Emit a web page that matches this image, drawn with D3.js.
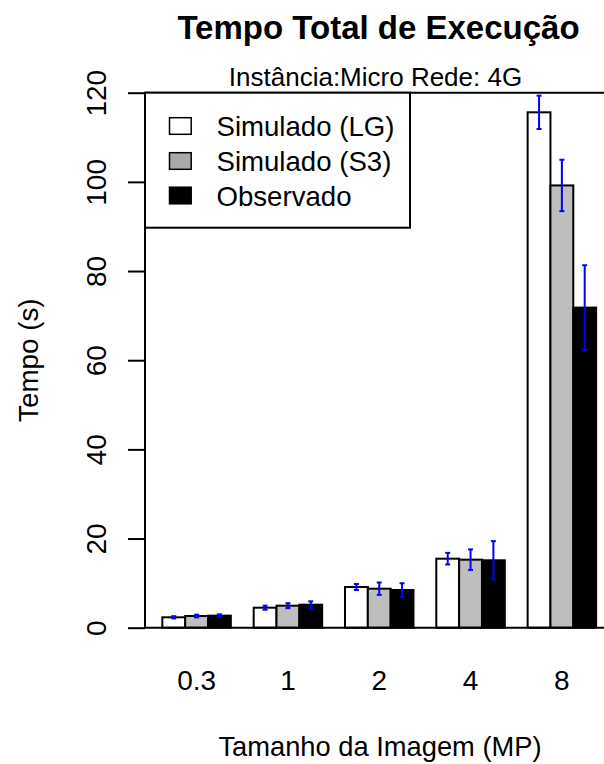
<!DOCTYPE html>
<html>
<head>
<meta charset="utf-8">
<script src="https://cdn.jsdelivr.net/npm/d3@7"></script>
<style>
  html, body { margin: 0; padding: 0; background: #ffffff; }
  svg { display: block; font-family: "Liberation Sans", Arial, Helvetica, sans-serif; }
</style>
</head>
<body>
<svg id="chart" width="604" height="764"></svg>
<script>
// Image sizes (MP) on the x axis
const categories = ["0.3", "1", "2", "4", "8"];
const seriesNames = ["Simulado (LG)", "Simulado (S3)", "Observado"];

// Mean total execution time (s)
const simLG = [2.33, 4.49, 9.13, 15.48, 115.6];
const simS3 = [2.62, 4.94, 8.75, 15.26, 99.2];
const observed = [2.70, 5.16, 8.46, 15.12, 71.8];

// Standard deviation (s), drawn as mean ± sd
const sdLG = [0.25, 0.45, 0.67, 1.3, 3.74];
const sdS3 = [0.3, 0.55, 1.38, 2.3, 5.76];
const sdObs = [0.3, 0.75, 1.5, 4.3, 9.5];

const yTicks = [0, 20, 40, 60, 80, 100, 120];

const barFill = ["#ffffff", "#bebebe", "#000000"];
const legendFill = ["#ffffff", "#a9a9a9", "#000000"];

const means = [simLG, simS3, observed];
const sds = [sdLG, sdS3, sdObs];

const svg = d3.select("#chart");

// Plot region
const plotLeft = 145, plotTop = 92.7, plotBottom = 627.7;
const unit = 22.83;                     // width of one bar
const origin = plotLeft - 0.24 * unit;  // x position of bar-unit 0

const y = d3.scaleLinear().domain([0, 120]).range([plotBottom, plotTop]);

// Each group takes four bar-widths: one gap followed by three bars
const x0 = d3.scaleBand()
  .domain(categories)
  .range([origin, origin + 20 * unit])
  .paddingInner(0).paddingOuter(0);
const x1 = d3.scaleBand()
  .domain(seriesNames)
  .range([x0.bandwidth() / 4, x0.bandwidth()])
  .paddingInner(0).paddingOuter(0);

// Bars
const bars = [];
categories.forEach((c, gi) => {
  seriesNames.forEach((s, si) => {
    bars.push({ cat: c, series: s, si, v: means[si][gi], sd: sds[si][gi] });
  });
});

svg.append("g").selectAll("rect")
  .data(bars)
  .join("rect")
  .attr("x", d => x0(d.cat) + x1(d.series))
  .attr("y", d => y(d.v))
  .attr("width", x1.bandwidth())
  .attr("height", d => y(0) - y(d.v))
  .attr("fill", d => barFill[d.si])
  .attr("stroke", "#000")
  .attr("stroke-width", 2);

// Error bars
const cap = 2.5;
const eg = svg.append("g").attr("stroke", "#0000ff").attr("stroke-width", 2).attr("fill", "none");
bars.forEach(d => {
  const cx = x0(d.cat) + x1(d.series) + x1.bandwidth() / 2;
  const y1 = y(d.v - d.sd), y2 = y(d.v + d.sd);
  eg.append("line").attr("x1", cx).attr("x2", cx).attr("y1", y1).attr("y2", y2);
  eg.append("line").attr("x1", cx - cap).attr("x2", cx + cap).attr("y1", y1).attr("y2", y1);
  eg.append("line").attr("x1", cx - cap).attr("x2", cx + cap).attr("y1", y2).attr("y2", y2);
});

// Frame lines at top and bottom of the plot region
svg.append("g").attr("stroke", "#000").attr("stroke-width", 2)
  .selectAll("line").data([0, 120]).join("line")
  .attr("x1", plotLeft).attr("x2", 604)
  .attr("y1", d => y(d)).attr("y2", d => y(d));

// Y axis
const yAxis = svg.append("g")
  .attr("transform", `translate(${plotLeft},0)`)
  .call(d3.axisLeft(y).tickValues(yTicks).tickSize(17).tickSizeOuter(0).tickFormat(d3.format("d")));
yAxis.select(".domain").attr("stroke-width", 2).attr("d", `M0,${y(0)}V${y(120)}`);
yAxis.selectAll(".tick line").attr("stroke-width", 2);
yAxis.selectAll(".tick text")
  .attr("x", null).attr("dy", null)
  .attr("transform", "translate(-39,0) rotate(-90)")
  .attr("text-anchor", "middle")
  .attr("font-size", 28)
  .attr("font-family", "Liberation Sans, Arial, sans-serif")
  .attr("fill", "#000");

// X category labels
svg.append("g").selectAll("text")
  .data(categories).join("text")
  .attr("x", d => x0(d) + x1.bandwidth() * 2.5)
  .attr("y", 689.5)
  .attr("text-anchor", "middle")
  .attr("font-size", 28)
  .text(d => d);

// Titles
svg.append("text")
  .attr("x", 378.5).attr("y", 39)
  .attr("text-anchor", "middle")
  .attr("font-size", 33).attr("font-weight", "bold")
  .text("Tempo Total de Execução");

svg.append("text")
  .attr("x", 375.5).attr("y", 85.5)
  .attr("text-anchor", "middle")
  .attr("font-size", 26)
  .text("Instância:Micro Rede: 4G");

svg.append("text")
  .attr("x", 380).attr("y", 756)
  .attr("text-anchor", "middle")
  .attr("font-size", 27.3)
  .text("Tamanho da Imagem (MP)");

svg.append("text")
  .attr("transform", `translate(37.5,${(y(0) + y(120)) / 2}) rotate(-90)`)
  .attr("text-anchor", "middle")
  .attr("font-size", 27.8)
  .text("Tempo (s)");

// Legend
const lg = svg.append("g");
lg.append("rect")
  .attr("x", plotLeft).attr("y", plotTop)
  .attr("width", 410 - plotLeft).attr("height", 227.7 - plotTop)
  .attr("fill", "#fff").attr("stroke", "#000").attr("stroke-width", 2);
const rowY = [126, 161, 195.5];
seriesNames.forEach((s, i) => {
  lg.append("rect")
    .attr("x", 169.5).attr("y", rowY[i] - 8.3)
    .attr("width", 21.7).attr("height", 16.6)
    .attr("fill", legendFill[i]).attr("stroke", "#000").attr("stroke-width", 1.5);
  lg.append("text")
    .attr("x", 216.5).attr("y", rowY[i] + 10)
    .attr("font-size", 27.6)
    .text(s);
});
</script>
</body>
</html>
